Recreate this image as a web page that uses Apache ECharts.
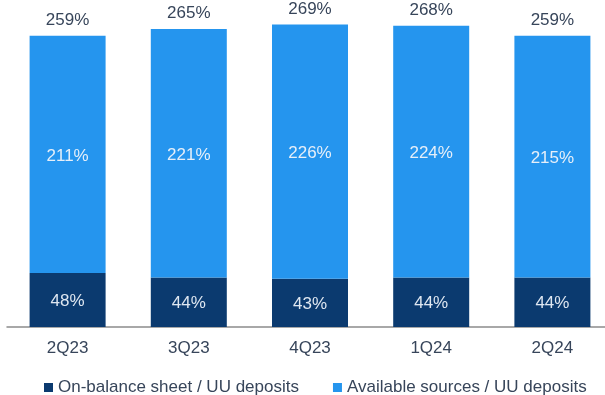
<!DOCTYPE html>
<html>
<head>
<meta charset="utf-8">
<script src="https://cdn.jsdelivr.net/npm/echarts@6/dist/echarts.min.js"></script>
<style>
  html, body { margin: 0; padding: 0; background: #ffffff; }
  #chart { width: 605px; height: 395px; }
</style>
</head>
<body>
<div id="chart"></div>
<script>
// Liquidity coverage by quarter (% of UU deposits)
var quarters = ['2Q23', '3Q23', '4Q23', '1Q24', '2Q24'];
var onBalance = [48, 44, 43, 44, 44];
var availableSources = [211, 221, 226, 224, 215];
var seriesNames = ['On-balance sheet / UU deposits', 'Available sources / UU deposits'];

// Stack totals shown above each column
var totals = quarters.map(function (_, i) { return onBalance[i] + availableSources[i]; });

var DARK = '#0b3a6f';
var LIGHT = '#2595ee';
var TEXT = '#37455a';
var FONT = '"Liberation Sans", Arial, sans-serif';

var chart = echarts.init(document.getElementById('chart'), null, { renderer: 'canvas' });

chart.setOption({
  animation: false,
  backgroundColor: '#ffffff',
  textStyle: { fontFamily: FONT },
  grid: { left: 7, top: 1, bottom: 68, width: 606, containLabel: false, outerBoundsMode: 'none' },
  legend: {
    data: seriesNames,
    left: 39,
    top: 374,
    itemWidth: 9,
    itemHeight: 9,
    itemGap: 34,
    icon: 'rect',
    textStyle: { fontFamily: FONT, fontSize: 17, color: TEXT }
  },
  xAxis: {
    type: 'category',
    data: quarters,
    axisLine: { show: true, lineStyle: { color: '#8c8c8c', width: 1.5 } },
    axisTick: { show: false },
    axisLabel: { fontFamily: FONT, fontSize: 17, color: TEXT, margin: 13 }
  },
  yAxis: {
    type: 'value',
    min: 0,
    max: 290,
    show: false,
    splitLine: { show: false }
  },
  series: [
    {
      name: seriesNames[0],
      type: 'bar',
      stack: 'ratio',
      barWidth: 76,
      data: onBalance,
      itemStyle: { color: DARK },
      label: {
        show: true,
        position: 'inside',
        offset: [0, 1],
        formatter: '{c}%',
        fontFamily: FONT,
        fontSize: 17,
        color: '#dfe7f1'
      }
    },
    {
      name: seriesNames[1],
      type: 'bar',
      stack: 'ratio',
      barWidth: 76,
      data: availableSources,
      itemStyle: { color: LIGHT },
      label: {
        show: true,
        position: 'inside',
        offset: [0, 2],
        formatter: '{c}%',
        fontFamily: FONT,
        fontSize: 17,
        color: '#e6eff9'
      }
    },
    {
      name: 'Total',
      type: 'bar',
      barWidth: 76,
      barGap: '-100%',
      silent: true,
      z: 1,
      data: totals,
      itemStyle: { color: 'rgba(0,0,0,0)' },
      label: {
        show: true,
        position: 'top',
        distance: 7,
        formatter: '{c}%',
        fontFamily: FONT,
        fontSize: 17,
        color: TEXT
      }
    }
  ]
});
</script>
</body>
</html>
